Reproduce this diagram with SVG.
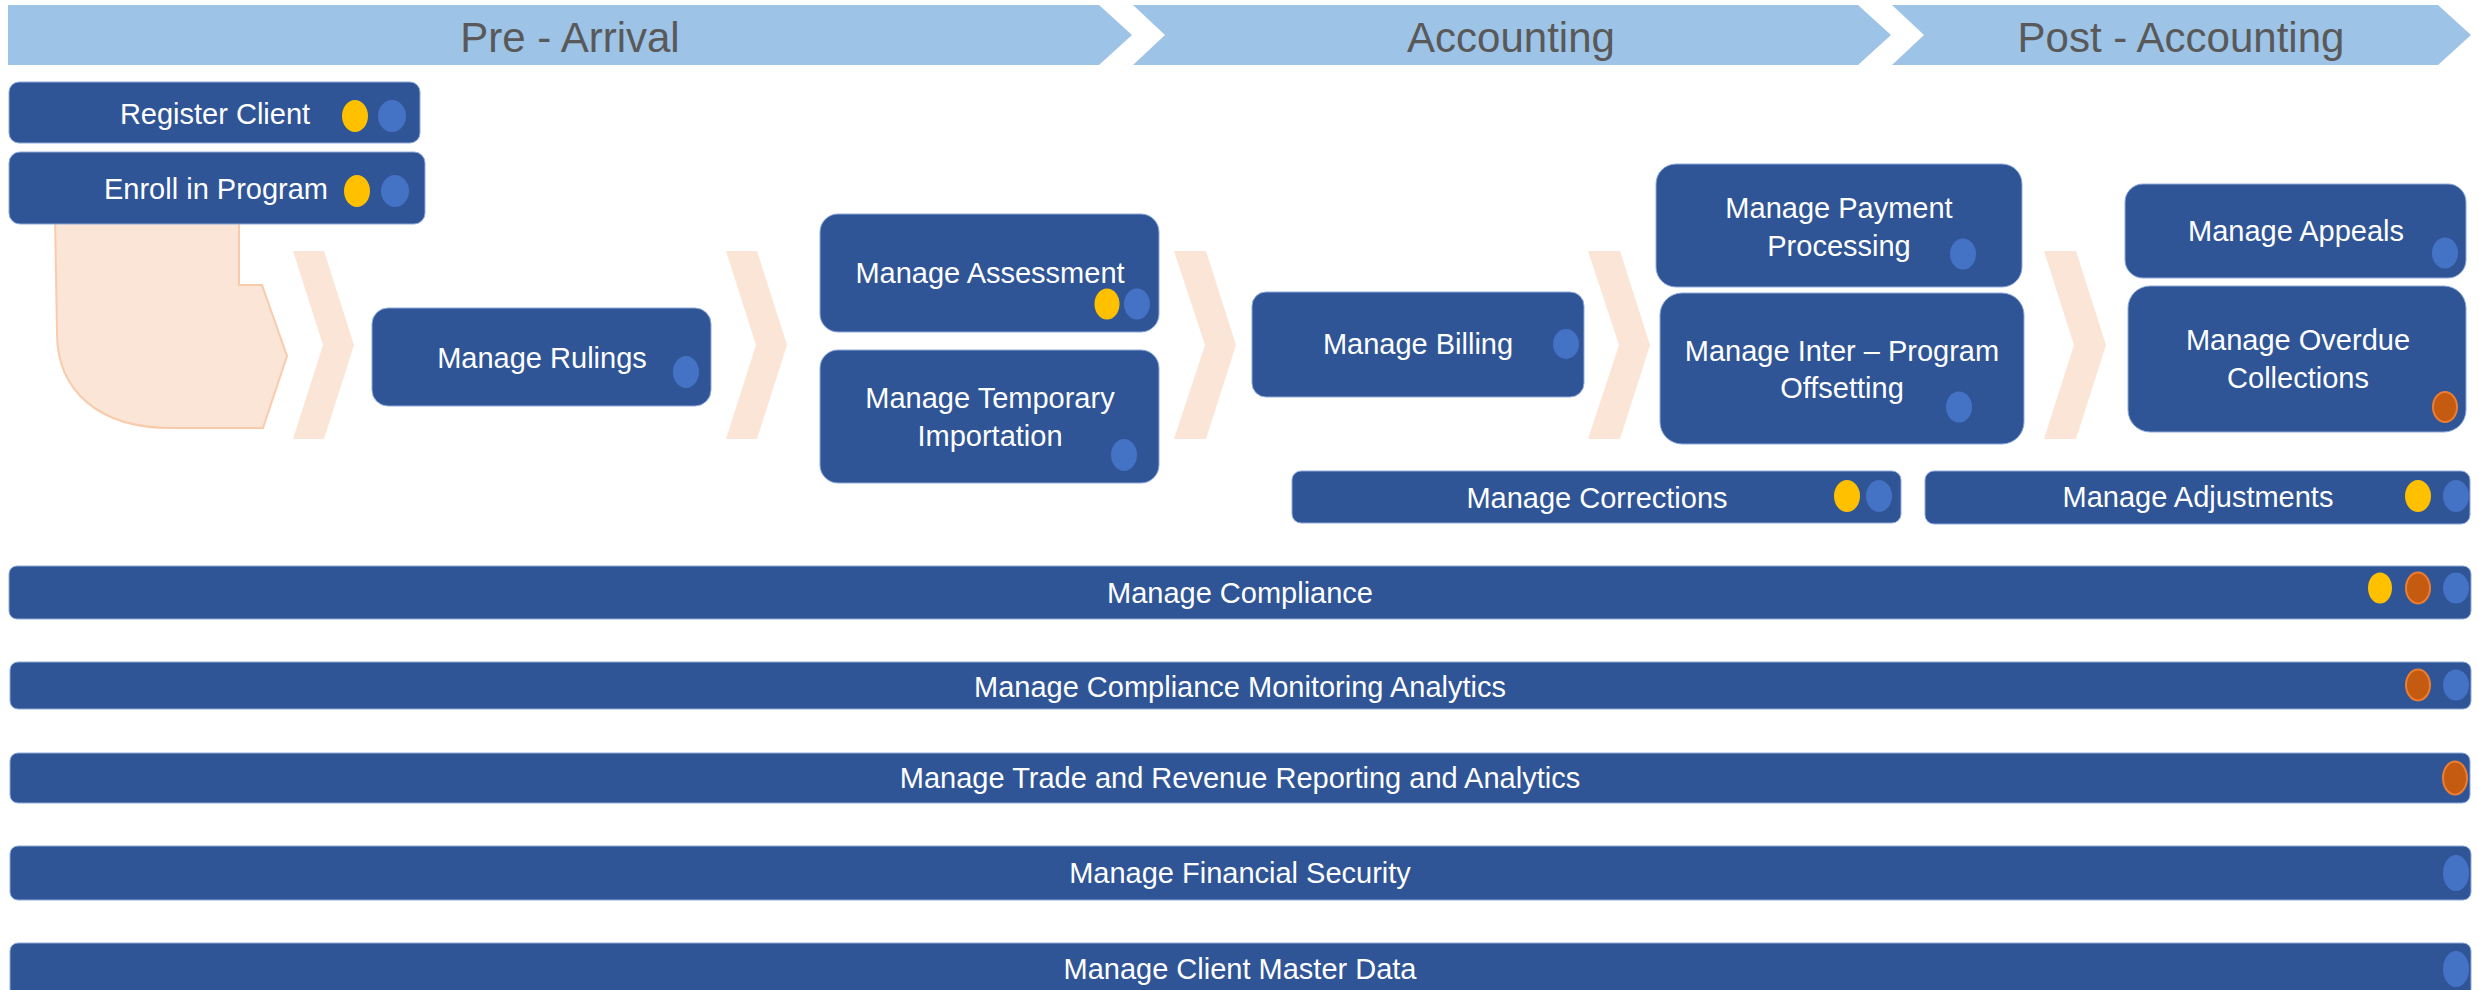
<svg xmlns="http://www.w3.org/2000/svg" width="2479" height="990" viewBox="0 0 2479 990">
<defs>
<style>
.box{fill:#2F5597;stroke:#8FAADC;stroke-width:1}
.t{font-family:"Liberation Sans",Arial,sans-serif;font-size:29px;fill:#FFFFFF;text-anchor:middle}
.h{font-family:"Liberation Sans",Arial,sans-serif;font-size:42px;fill:#595959;text-anchor:middle}
.phase{fill:#9DC3E6}
.chev{fill:#FBE5D6}
.y{fill:#FFC000}
.b{fill:#4472C4}
.o{fill:#C55A11;stroke:#ED7D31;stroke-width:2}
</style>
</defs>
<rect width="2479" height="990" fill="#FFFFFF"/>

<g id="phases">
<polygon class="phase" points="8,5 1099,5 1132,35 1099,65 8,65"/>
<polygon class="phase" points="1133,5 1858,5 1891,35 1858,65 1133,65 1165,35"/>
<polygon class="phase" points="1892,5 2438,5 2471,35 2438,65 1892,65 1924,35"/>
<text class="h" x="570" y="52">Pre - Arrival</text>
<text class="h" x="1511" y="52">Accounting</text>
<text class="h" x="2181" y="52">Post - Accounting</text>
</g>

<g id="start-shape">
<path d="M55,215 L57,333 C57,392 100,428 171,428 L263,428 L287,356 L262,285 L239,285 L239,215 Z" fill="#FBE5D6" stroke="#F8CBAD" stroke-width="2"/>
</g>

<g id="connectors">
<polygon class="chev" points="293,251 324,251 354,345 324,439 293,439 323,345"/>
<polygon class="chev" points="726,251 757,251 787,345 757,439 726,439 756,345"/>
<polygon class="chev" points="1174,251 1206,251 1236,345 1206,439 1174,439 1205,345"/>
<polygon class="chev" points="1588,251 1620,251 1650,345 1620,439 1588,439 1619,345"/>
<polygon class="chev" points="2044,251 2076,251 2106,345 2076,439 2044,439 2074,345"/>
</g>

<g id="register-client">
<rect class="box" x="9" y="82" width="411" height="61" rx="10"/>
<text class="t" x="215" y="124">Register Client</text>
<ellipse class="y" cx="355" cy="116" rx="13" ry="16"/>
<ellipse class="b" cx="392" cy="116" rx="14" ry="16"/>
</g>

<g id="enroll-in-program">
<rect class="box" x="9" y="152" width="416" height="72" rx="11"/>
<text class="t" x="216" y="199">Enroll in Program</text>
<ellipse class="y" cx="357" cy="191" rx="13" ry="16"/>
<ellipse class="b" cx="395" cy="191" rx="14" ry="16"/>
</g>

<g id="manage-rulings">
<rect class="box" x="372" y="308" width="339" height="98" rx="16"/>
<text class="t" x="542" y="368">Manage Rulings</text>
<ellipse class="b" cx="686" cy="372" rx="13" ry="16"/>
</g>

<g id="manage-assessment">
<rect class="box" x="820" y="214" width="339" height="118" rx="18"/>
<text class="t" x="990" y="283">Manage Assessment</text>
<ellipse class="y" cx="1107" cy="304" rx="12.5" ry="15.5"/>
<ellipse class="b" cx="1137" cy="304" rx="13" ry="15.5"/>
</g>

<g id="manage-temporary-importation">
<rect class="box" x="820" y="350" width="339" height="133" rx="18"/>
<text class="t" x="990" y="408">Manage Temporary</text>
<text class="t" x="990" y="446">Importation</text>
<ellipse class="b" cx="1124" cy="455" rx="13" ry="16"/>
</g>

<g id="manage-billing">
<rect class="box" x="1252" y="292" width="332" height="105" rx="14"/>
<text class="t" x="1418" y="354">Manage Billing</text>
<ellipse class="b" cx="1566" cy="344" rx="13" ry="15"/>
</g>

<g id="manage-payment-processing">
<rect class="box" x="1656" y="164" width="366" height="123" rx="20"/>
<text class="t" x="1839" y="218">Manage Payment</text>
<text class="t" x="1839" y="256">Processing</text>
<ellipse class="b" cx="1963" cy="254" rx="13" ry="15.5"/>
</g>

<g id="manage-inter-program-offsetting">
<rect class="box" x="1660" y="293" width="364" height="151" rx="22"/>
<text class="t" x="1842" y="361">Manage Inter – Program</text>
<text class="t" x="1842" y="398">Offsetting</text>
<ellipse class="b" cx="1959" cy="407" rx="13" ry="15.5"/>
</g>

<g id="manage-appeals">
<rect class="box" x="2125" y="184" width="341" height="94" rx="18"/>
<text class="t" x="2296" y="241">Manage Appeals</text>
<ellipse class="b" cx="2445" cy="253" rx="13" ry="15.5"/>
</g>

<g id="manage-overdue-collections">
<rect class="box" x="2128" y="286" width="338" height="146" rx="22"/>
<text class="t" x="2298" y="350">Manage Overdue</text>
<text class="t" x="2298" y="388">Collections</text>
<ellipse class="o" cx="2445" cy="407" rx="12" ry="15"/>
</g>

<g id="manage-corrections">
<rect class="box" x="1292" y="471" width="609" height="52" rx="9"/>
<text class="t" x="1597" y="508">Manage Corrections</text>
<ellipse class="y" cx="1847" cy="496" rx="13" ry="16"/>
<ellipse class="b" cx="1879" cy="496" rx="13" ry="16"/>
</g>

<g id="manage-adjustments">
<rect class="box" x="1925" y="471" width="545" height="53" rx="9"/>
<text class="t" x="2198" y="507">Manage Adjustments</text>
<ellipse class="y" cx="2418" cy="496" rx="13" ry="16"/>
<ellipse class="b" cx="2456" cy="496" rx="13" ry="16"/>
</g>

<g id="manage-compliance">
<rect class="box" x="9" y="566" width="2462" height="53" rx="8"/>
<text class="t" x="1240" y="603">Manage Compliance</text>
<ellipse class="y" cx="2380" cy="588" rx="12" ry="15.5"/>
<ellipse class="o" cx="2418" cy="588" rx="12" ry="15.5"/>
<ellipse class="b" cx="2456" cy="588" rx="13" ry="15.5"/>
</g>

<g id="manage-compliance-monitoring-analytics">
<rect class="box" x="10" y="662" width="2461" height="47" rx="8"/>
<text class="t" x="1240" y="697">Manage Compliance Monitoring Analytics</text>
<ellipse class="o" cx="2418" cy="685" rx="12" ry="15.5"/>
<ellipse class="b" cx="2456" cy="685" rx="13" ry="15.5"/>
</g>

<g id="manage-trade-revenue-reporting">
<rect class="box" x="10" y="753" width="2460" height="50" rx="8"/>
<text class="t" x="1240" y="788">Manage Trade and Revenue Reporting and Analytics</text>
<ellipse class="o" cx="2455" cy="778" rx="12" ry="16.5"/>
</g>

<g id="manage-financial-security">
<rect class="box" x="10" y="846" width="2461" height="54" rx="8"/>
<text class="t" x="1240" y="883">Manage Financial Security</text>
<ellipse class="b" cx="2456" cy="873" rx="13" ry="18"/>
</g>

<g id="manage-client-master-data">
<rect class="box" x="10" y="943" width="2461" height="60" rx="8"/>
<text class="t" x="1240" y="979">Manage Client Master Data</text>
<ellipse class="b" cx="2456" cy="969" rx="13" ry="18"/>
</g>
</svg>
